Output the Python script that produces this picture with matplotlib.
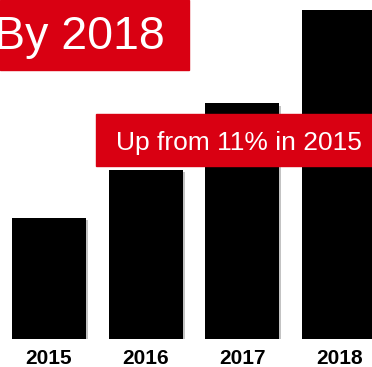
import matplotlib.pyplot as plt
import matplotlib.patheffects as pe
from matplotlib.patches import Rectangle

# share by year, in percent
years = ['2015', '2016', '2017', '2018']
share = [11, 15.4, 21.4, 29.9]

red = '#d90012'
W, H = 372, 367

fig = plt.figure(figsize=(W / 100, H / 100), dpi=100)
ax = fig.add_axes([0, 1 - 339 / H, 1, 339 / H])

x = range(len(years))
bars = ax.bar(x, share, width=0.765, color='black', zorder=2)
for b in bars:
    b.set_path_effects([pe.SimplePatchShadow(offset=(1.5, -1.5), shadow_rgbFace='#888888', alpha=0.5),
                        pe.Normal()])

ax.set_xlim(-0.507, 3.34)
ax.set_ylim(0, 30.8)
ax.set_xticks(list(x))
ax.set_xticklabels(years, fontsize=15, fontweight='bold', family='Liberation Sans')
ax.tick_params(axis='x', length=0, pad=7.5)
ax.set_yticks([])
for s in ax.spines.values():
    s.set_visible(False)

# red banners
def px(xp, yp):
    return xp / W, 1 - yp / H

fig.patches.append(Rectangle(px(0, 70), 189 / W, 70 / H, transform=fig.transFigure,
                             color=red, zorder=3))
fig.text(*px(165, 49), 'By 2018', ha='right', va='baseline', color='white',
         fontsize=33.5, family='Liberation Sans', zorder=4)

fig.patches.append(Rectangle(px(96, 166), (372 - 96) / W, 52 / H, transform=fig.transFigure,
                             color=red, zorder=3))
fig.text(*px(116, 150), 'Up from 11% in 2015', ha='left', va='baseline', color='white',
         fontsize=19, family='Liberation Sans', zorder=4)

fig.savefig('out.png', dpi=100)
